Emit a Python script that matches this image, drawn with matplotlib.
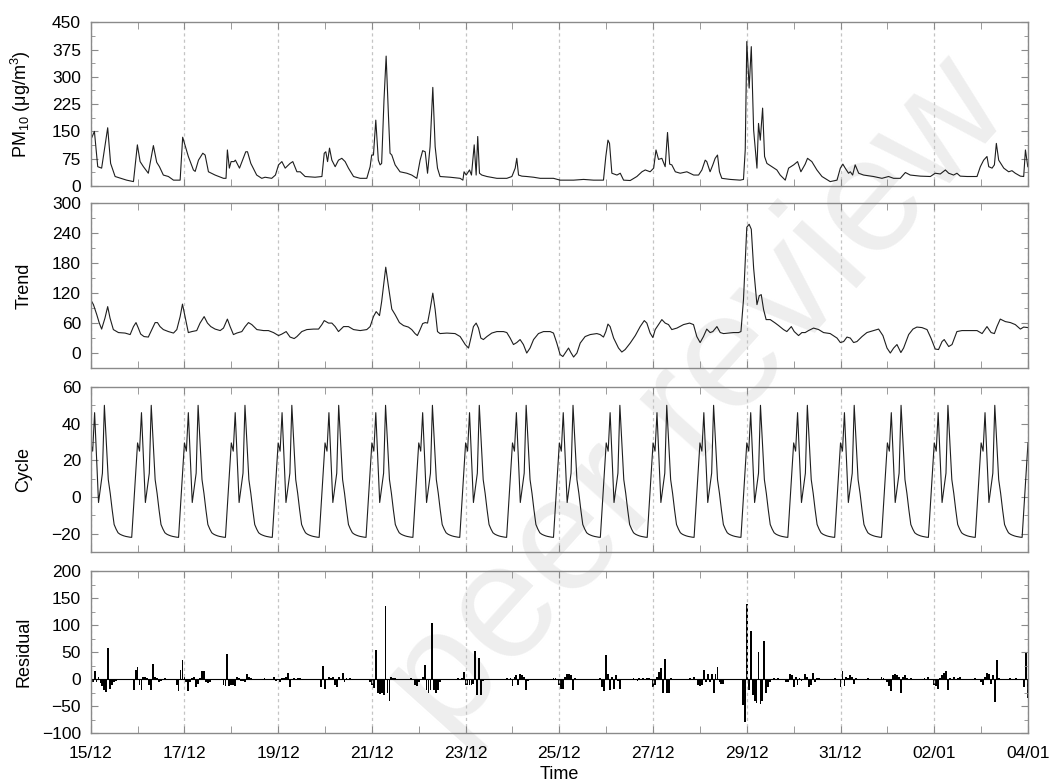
#!/usr/bin/env python3
"""PM10 decomposition: observed series, trend, daily cycle and residual."""

import numpy as np
import matplotlib

matplotlib.use("Agg")
import matplotlib.pyplot as plt
from matplotlib.ticker import MultipleLocator

plt.rcParams["font.family"] = ["Liberation Sans", "DejaVu Sans"]
plt.rcParams["mathtext.default"] = "regular"

# time axis: hours since 15/12 00:00, 20 days
n_days = 20
day_labels = ["15/12", "17/12", "19/12", "21/12", "23/12", "25/12",
              "27/12", "29/12", "31/12", "02/01", "04/01"]

pm10_hours = [
    0, 1.9, 3.6, 5.6, 8.7, 10.2, 12.5, 18.4, 21.9, 23.9,
    25.3, 27, 29.5, 32.1, 33.8, 35.2, 37.2, 39.8, 42.4, 45.8,
    47.1, 50, 52.6, 53.5, 55.2, 57.4, 58.6, 60.3, 63.7, 68,
    69.3, 70, 71, 71.9, 73.4, 74.1, 76.2, 79.4, 80.3, 82,
    85, 87.6, 89.3, 92.7, 94.6, 96.2, 97.9, 99.6, 102.1, 103.5,
    105.6, 107.3, 109.8, 114.9, 118.4, 119.6, 120.4, 121.3, 122.3, 123.5,
    125.2, 126.9, 128.6, 130.3, 132, 134.6, 138, 141.4, 143.1, 143.9,
    144.8, 146, 147.3, 148.2, 149, 150.2, 151.3, 152.5, 153.3, 154.2,
    155.9, 158.4, 161.9, 164.4, 167, 168.7, 170, 171.3, 172.5, 173.8,
    175.2, 176.4, 177.6, 178.9, 184.1, 189.2, 190.6, 191.2, 192.3, 194,
    195, 196.4, 197.4, 198.2, 199.1, 200.3, 202.9, 208, 213.1, 215.7,
    217.4, 218.2, 219.1, 220.8, 223.3, 226.8, 230.2, 237, 240.4, 247.3,
    252.4, 257.5, 262.6, 263.8, 264.9, 265.7, 266.9, 269.5, 271.2, 272.9,
    276.3, 279.7, 282.3, 284, 286.5, 288.3, 289.5, 290.8, 292.5, 294.2,
    295.4, 296.5, 297.6, 299.4, 301.9, 305.3, 308.8, 311.3, 313, 314.7,
    315.5, 317.2, 318.6, 319.8, 321, 322, 323.2, 327.5, 332.6, 334.3,
    335.2, 336, 337.2, 338.3, 339.5, 341.2, 342, 342.9, 344.1, 345.1,
    346.3, 348.8, 351.4, 353.1, 355.7, 357.4, 360, 362, 363.7, 365.9,
    367.1, 369.3, 371.9, 374.5, 378.7, 382.2, 383.9, 385.2, 386.4, 388.1,
    389, 390.2, 391.5, 393.3, 395.8, 400.9, 405.2, 408.6, 411.2, 414.6,
    417.2, 419.7, 424.9, 430, 432.5, 435.1, 437.7, 439.4, 441.9, 443.6,
    445.3, 448.8, 453.9, 455.6, 457.3, 459, 459.9, 461.6, 462.8, 463.8,
    465, 467.6, 470.1, 471.8, 473.5, 476.1, 477.8, 478.7, 479.9,
]
pm10_values = [
    126, 150, 53, 49, 160, 62, 26, 16, 12, 113,
    67, 53, 35, 111, 65, 53, 30, 26, 16, 16,
    134, 81, 44, 40, 71, 90, 85, 39, 30, 21,
    21, 99, 49, 67, 67, 71, 49, 94, 94, 62,
    30, 21, 24, 21, 30, 58, 67, 49, 62, 67,
    39, 39, 26, 24, 26, 90, 94, 67, 104, 71,
    53, 71, 76, 67, 49, 26, 21, 21, 53, 85,
    85, 181, 71, 58, 62, 236, 357, 191, 90, 85,
    58, 39, 35, 30, 21, 71, 97, 94, 35, 108,
    271, 108, 49, 26, 24, 21, 16, 39, 30, 44,
    30, 113, 30, 136, 35, 30, 26, 21, 21, 26,
    49, 76, 30, 27, 26, 24, 21, 21, 16, 16,
    18, 16, 16, 81, 126, 117, 35, 30, 35, 16,
    15, 26, 39, 44, 39, 49, 99, 73, 76, 53,
    147, 60, 58, 39, 35, 39, 30, 30, 44, 71,
    67, 39, 58, 76, 85, 39, 21, 18, 16, 18,
    99, 397, 269, 383, 154, 49, 172, 126, 214, 81,
    62, 53, 44, 30, 16, 49, 58, 67, 39, 60,
    76, 67, 44, 26, 12, 16, 49, 60, 49, 35,
    39, 30, 58, 35, 30, 26, 21, 26, 21, 21,
    37, 30, 27, 26, 35, 33, 44, 35, 30, 35,
    27, 26, 26, 53, 71, 81, 53, 49, 58, 117,
    71, 49, 39, 42, 35, 27, 26, 99, 53,
]

trend_hours = [
    0, 1.4, 3.1, 4.4, 5.6, 7.3, 8.7, 9.9, 11.6, 14.2,
    17.6, 20.2, 21.9, 23.2, 24.4, 25.6, 27.3, 29.5, 31.3, 33,
    34.2, 35.5, 37.2, 39.8, 42.4, 44.1, 45.8, 47, 48.3, 50,
    51.8, 54.3, 56, 58.1, 59.8, 61.5, 63.7, 66.3, 68, 70,
    71.4, 73.1, 74.8, 77.4, 79.1, 80.8, 82.5, 85.1, 88.5, 91,
    93.6, 96.2, 97.9, 100.1, 102.1, 104.2, 105.6, 108.1, 110.7, 114.1,
    116.7, 118.4, 119.6, 121.8, 123.5, 125.2, 126.9, 129.5, 132, 134.6,
    138, 141.4, 143.1, 144.8, 146.2, 147.9, 149, 151.1, 152.5, 154.2,
    155.9, 158.1, 160.2, 162.7, 164.4, 166.1, 167.3, 168.7, 170, 171.3,
    172.5, 173.8, 175.2, 176.4, 177.6, 178.9, 182.4, 186.6, 189.2, 191.8,
    193.5, 194.7, 196, 197.4, 198.6, 199.8, 201.1, 202.9, 205.4, 208,
    211.4, 213.1, 214.8, 216.5, 218.2, 219.9, 221.6, 223.3, 225, 226.8,
    229.3, 231.9, 235.3, 237, 238.7, 240.4, 241.8, 243.5, 244.7, 245.9,
    247.3, 249, 250.7, 253.2, 255.8, 259.2, 260.9, 262.6, 263.8, 264.9,
    266, 267.8, 270.3, 272, 273.7, 276.3, 278.9, 281.4, 283.5, 284.8,
    286.5, 287.9, 289.1, 290.8, 292.5, 294.2, 295.9, 297.6, 300.2, 303.6,
    306.7, 308.7, 310.4, 312.1, 313.8, 315.5, 317.2, 318.6, 320.7, 322.4,
    324.1, 326.6, 329.2, 331.8, 333, 334.3, 336, 337.2, 338.3, 339.5,
    341.2, 342.4, 343.4, 344.6, 345.9, 348, 350.6, 352.3, 354.8, 356.5,
    358.8, 360.3, 362.5, 364.2, 365.9, 367.6, 370.2, 372.8, 375.3, 378.7,
    382.2, 383.9, 385.6, 387.3, 389, 390.7, 392.4, 395, 397.5, 400.9,
    403.5, 405.7, 407.8, 409.5, 411.2, 412.9, 414.9, 416.3, 418.9, 421.1,
    423.1, 425.7, 428.3, 430.3, 432.5, 434.2, 436, 437.1, 439.4, 441.1,
    443.6, 446.2, 450.5, 453.9, 456.5, 459, 461.1, 462.8, 464.1, 465.8,
    468.4, 471, 473.5, 476.1, 477.8, 479.9,
]
trend_values = [
    107, 97, 77, 60, 48, 70, 93, 70, 47, 41,
    40, 37, 53, 61, 50, 38, 33, 32, 47, 61,
    61, 53, 47, 43, 40, 47, 73, 98, 73, 41,
    43, 45, 60, 73, 60, 53, 48, 45, 50, 68,
    53, 37, 40, 43, 53, 61, 57, 47, 45, 45,
    41, 35, 38, 43, 32, 29, 33, 43, 47, 48,
    48, 57, 65, 60, 60, 53, 43, 53, 53, 47,
    45, 47, 53, 73, 83, 75, 103, 172, 133, 88,
    77, 61, 55, 52, 47, 39, 35, 47, 59, 61,
    60, 87, 120, 87, 43, 39, 40, 39, 33, 17,
    10, 30, 53, 60, 50, 30, 27, 33, 40, 43,
    43, 41, 30, 17, 21, 27, 17, 0, 10, 27,
    39, 43, 43, 40, 20, -3, -7, 3, 10, 1,
    -8, 0, 20, 33, 37, 39, 37, 32, 43, 58,
    53, 30, 10, 2, 7, 20, 35, 53, 65, 60,
    40, 31, 47, 57, 67, 60, 57, 47, 50, 57,
    60, 57, 33, 21, 33, 48, 41, 43, 53, 41,
    39, 40, 41, 41, 43, 107, 252, 258, 248, 170,
    97, 115, 117, 87, 67, 67, 60, 55, 47, 43,
    53, 43, 35, 41, 41, 45, 50, 47, 41, 39,
    30, 21, 23, 32, 30, 21, 23, 33, 41, 45,
    48, 35, 10, 0, 10, 17, 1, 10, 37, 48,
    52, 51, 47, 30, 8, 7, 23, 27, 13, 17,
    43, 45, 45, 45, 39, 53, 41, 39, 53, 68,
    63, 61, 57, 48, 52, 51,
]

# daily cycle, one value per hour of day (repeats every day)
cycle_daily = [29.5, 25, 46, 21, -3, 5, 13, 50, 30, 9.5, 2, -7,
               -15, -17.5, -19.5, -20.3, -20.8, -21.2, -21.5, -21.7,
               -21.9, -22, -5, 12]

residual_hours = [
    1, 2, 3, 4, 5, 6, 7, 8, 9, 10, 11, 12, 13,
    22, 23, 24, 25, 26, 27, 28, 29, 30, 31, 32, 33, 34, 35, 36, 38,
    44, 45, 46, 47, 48, 49, 50, 51, 52, 53, 54, 55, 56, 57, 58, 59, 60, 61,
    68, 69, 70, 71, 72, 73, 74, 75, 76, 77, 78, 79, 80, 81, 82, 83, 87, 89,
    94, 95, 97, 98, 99, 100, 101, 102, 104, 106, 107, 108,
    118, 119, 120, 122, 123, 124, 125, 126, 127, 129, 130, 131, 133,
    143, 144, 145, 146, 147, 148, 149, 150, 151, 152, 153, 154, 155, 156,
    164, 166, 167, 168, 170, 171, 172, 173, 174, 175, 176, 177, 178, 179,
    188, 190, 191, 192, 193, 194, 195, 196, 197, 198, 199, 200, 201,
    213, 215, 216, 217, 218, 219, 220, 221, 222, 223, 224,
    237, 238, 240, 241, 242, 243, 244, 245, 246, 247, 248,
    261, 262, 263, 264, 265, 266, 267, 268, 269, 270, 271,
    278, 280, 281, 283, 285, 286, 288, 289, 290, 291, 292, 293, 294, 295, 296, 297,
    307, 309, 311, 312, 313, 314, 315, 316, 317, 318, 319, 320, 321, 322, 323, 324,
    334, 335, 336, 337, 338, 339, 340, 341, 342, 343, 344, 345, 346, 347, 348, 350, 352,
    356, 357, 358, 359, 360, 361, 362, 363, 364, 365, 366, 367, 368, 369, 370, 371, 372, 373, 375, 381,
    384, 385, 386, 387, 388, 389, 390, 391, 392, 396, 398,
    405, 406, 408, 409, 410, 411, 412, 413, 414, 415, 416, 417, 418, 420,
    427, 429, 431, 432, 433, 434, 435, 436, 437, 438, 439, 440, 442, 444, 445, 446, 449, 453,
    456, 457, 458, 459, 460, 461, 462, 463, 464, 465, 467, 471, 474,
    478, 479, 480,
]
residual_values = [
    -5, 15, -5, 5, -7, -13, -20, -23, 58, -18, -10, -5, -3,
    -20, 18, 22, -10, -20, 5, 5, 3, -10, -20, 28, 5, 3, -5, -3, 2,
    -10, -22, 18, 35, 10, -5, -22, -5, 3, 5, -15, -8, 3, 15, 15, -5, -7, -5,
    -10, -12, 47, -12, -10, -10, -12, 5, 3, -3, -3, -5, 10, 5, 3, -2, -2, 3,
    5, -3, -5, 3, 3, 5, 12, -15, 3, 3, 3, -2,
    -15, 24, -18, 5, 3, 5, -10, -15, 5, 12, -5, 3, 2,
    -5, -10, -17, 55, -25, -28, -25, -30, 135, -25, -40, 5, 3, 2,
    3, -10, -12, -5, 5, 27, -20, -25, -20, 105, -20, -25, -20, -5,
    2, 3, 13, -10, -10, -10, -10, -8, 52, -30, 40, -30, -3,
    2, 3, -12, 5, 8, -10, 10, 8, 5, -20, -3,
    3, 2, -10, -18, -18, 5, 10, 10, 8, -20, 3,
    3, -15, -22, 44, 10, -20, 5, -18, 8, -3, -18,
    2, -3, 3, 2, 3, 2, -15, -10, 5, 13, 20, -25, 38, -25, -25, 2,
    3, 5, -10, -12, -10, 18, -5, 10, -5, 10, -25, 10, 22, -5, -8, -8,
    -47, -80, 139, -20, 90, -30, -41, -44, 51, -45, -40, 70, -25, -15, -5, 2, 2,
    -5, -5, 10, 8, -15, 5, -10, 3, -3, -2, 10, 5, -15, -10, 12, -5, 2, 2, -2, 2,
    -15, 15, -12, 5, 3, 8, 5, -8, 2, -2, 2,
    5, 3, -5, -12, -22, 8, 10, 8, 5, -25, 5, 8, 3, 2,
    2, 5, -2, -10, -12, -18, 3, 8, 12, 15, -20, 3, 5, 2, 5, -2, -2, 2,
    -5, -10, 5, 12, 10, -8, 8, -42, 36, 3, -2, 3, 2,
    -15, 49, -35,
]

assert len(pm10_hours) == len(pm10_values)
assert len(trend_hours) == len(trend_values)
assert len(residual_hours) == len(residual_values)

cycle_hours = np.arange(n_days * 24 + 1)
cycle_values = np.asarray(cycle_daily)[cycle_hours % 24]

LINE = "#1e1e1e"
FRAME = "#8a8a8a"

fig = plt.figure(figsize=(10.51, 7.84), dpi=100)

# faint preprint watermark, kept behind the data
fig.text(0.665, 0.49, "peer review", rotation=48, fontsize=118,
         color="#eeeeee", ha="center", va="center", zorder=-1)

left, width = 0.0863, 0.8918
boxes = [
    (0.7628, 0.2088),
    (0.5306, 0.2101),
    (0.2959, 0.2105),
    (0.0647, 0.2067),
]
axes = [fig.add_axes([left, b, width, h]) for b, h in boxes]

panels = [
    ("PM$_{10}$ (\u03bcg/m$^{3}$)", (0, 450), 75, 37.5),
    ("Trend", (-30, 300), 60, 30),
    ("Cycle", (-30, 60), 20, 10),
    ("Residual", (-100, 200), 50, 25),
]

for ax, (label, ylim, major, minor) in zip(axes, panels):
    ax.set_facecolor("none")
    ax.set_xlim(0, n_days * 24)
    ax.set_ylim(*ylim)
    ax.yaxis.set_major_locator(MultipleLocator(major))
    ax.yaxis.set_minor_locator(MultipleLocator(minor))
    ax.set_xticks(np.arange(0, n_days * 24 + 1, 48))
    ax.set_xticks(np.arange(24, n_days * 24, 48), minor=True)
    ax.grid(axis="x", which="major", color="#c4c4c4", linestyle=(0, (2.5, 2.5)),
            linewidth=0.9)
    ax.tick_params(which="both", direction="in", top=True, right=True,
                   color=FRAME, labelsize=12.5)
    ax.tick_params(axis="y", which="major", length=5, pad=7)
    ax.tick_params(axis="y", which="minor", length=3)
    ax.tick_params(axis="x", which="both", length=5, pad=9)
    for spine in ax.spines.values():
        spine.set_color(FRAME)
        spine.set_linewidth(1.0)
    ax.set_ylabel(label, fontsize=13)
    ax.yaxis.set_label_coords(-0.062, 0.5)
    if ax is not axes[-1]:
        ax.tick_params(axis="x", labelbottom=False)

axes[0].plot(pm10_hours, pm10_values, color=LINE, linewidth=0.8)
axes[1].plot(trend_hours, trend_values, color=LINE, linewidth=0.8)
axes[2].plot(cycle_hours, cycle_values, color=LINE, linewidth=0.8)
axes[3].axhline(0, color="black", linewidth=0.8)
axes[3].bar(residual_hours, residual_values, width=0.95, color="black",
            linewidth=0)

axes[-1].set_xticklabels(day_labels)
axes[-1].set_xlabel("Time", fontsize=13, labelpad=4)

fig.savefig("out.png", dpi=100)
